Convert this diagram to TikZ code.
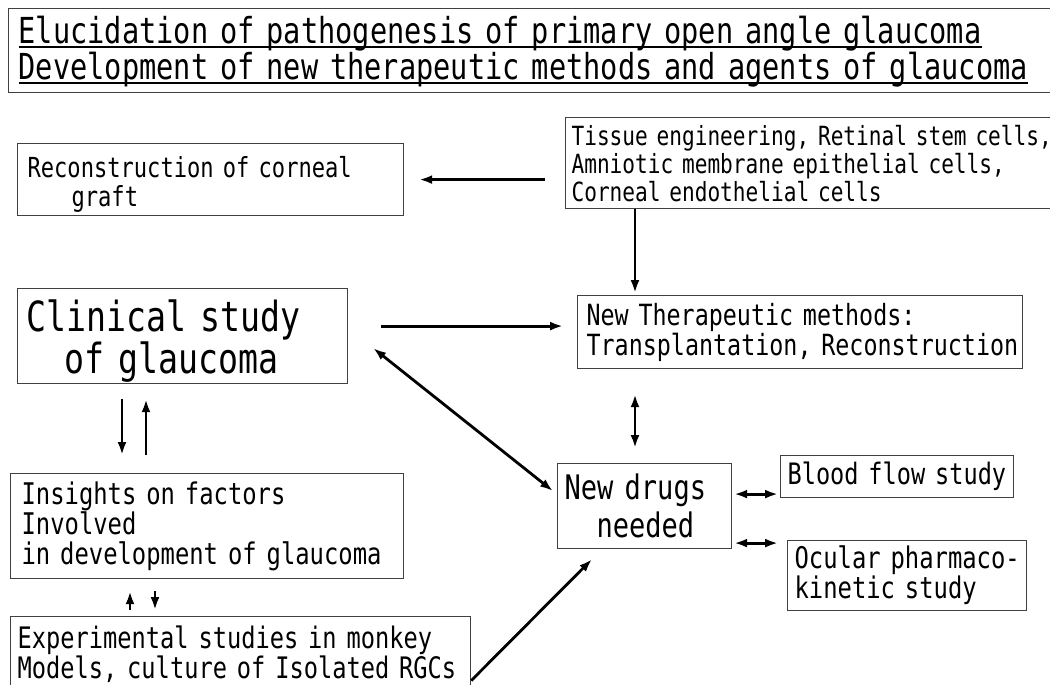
\documentclass[tikz,border=0pt]{standalone}
\usepackage{fontspec}
\usetikzlibrary{arrows.meta,positioning}
\newfontfamily\gothic[FakeStretch=0.8]{DejaVu Sans Mono}
\newcommand\gsize[2]{\gothic\fontsize{#1}{#2}\selectfont}
\newcommand\ulin[1]{\hbox{\setbox0\hbox{#1}\rlap{\rule[-4.5pt]{\wd0}{1.8pt}}\box0}}

\begin{document}
\begin{tikzpicture}[x=1pt,y=-1pt,
  box/.style={draw=black!75,line width=1.2pt,anchor=north west,align=left,inner ysep=0pt},
  arr/.style={-{Latex[length=13pt,width=9pt]},line width=2.8pt},
  darr/.style={{Latex[length=13pt,width=9pt]}-{Latex[length=13pt,width=9pt]},line width=2.8pt}]
\useasboundingbox (0,0) rectangle (1050,685);
% title
\node[box,text width=1040pt,minimum height=84pt,inner xsep=10pt,font=\gsize{35.8}{35}] (aim) at (8,8)
  {\rule{0pt}{30pt}\ulin{Elucidation of pathogenesis of primary open angle glaucoma}\\%
   \ulin{Development of new therapeutic methods and agents of glaucoma}};
% boxes
\node[box,text width=366pt,minimum height=72pt,inner xsep=10pt,font=\gsize{27.6}{29}] (graft) at (17,143)
  {\rule{0pt}{30pt}Reconstruction of corneal\\\hspace*{44pt}graft};
\node[box,text width=500pt,minimum height=91pt,inner xsep=6pt,font=\gsize{26.4}{28}] (tissue) at (565,117)
  {\mbox{Tissue engineering, Retinal stem cells,}\\\mbox{Amniotic membrane epithelial cells,}\\Corneal endothelial cells};
\node[box,text width=312pt,minimum height=95pt,inner xsep=9pt,font=\gsize{41.5}{40}] (clinical) at (17,288)
  {\rule{0pt}{42pt}Clinical study\\\hspace*{38pt}of glaucoma};
\node[box,text width=427pt,minimum height=73pt,inner xsep=9pt,font=\gsize{29.2}{30}] (therapy) at (577,295)
  {\mbox{New Therapeutic methods:}\\\mbox{Transplantation, Reconstruction}};
\node[box,text width=160pt,minimum height=85pt,inner xsep=7pt,font=\gsize{33.8}{38}] (drugs) at (557,463)
  {New drugs\\\hspace*{32pt}needed};
\node[box,text width=219pt,minimum height=42pt,inner xsep=7pt,font=\gsize{29.5}{30}] (blood) at (780,455)
  {\mbox{Blood flow study}};
\node[box,text width=225pt,minimum height=70pt,inner xsep=7pt,font=\gsize{29.8}{30}] (ocular) at (787,540)
  {\mbox{Ocular pharmaco-}\\\mbox{kinetic study}};
\node[box,text width=371pt,minimum height=105pt,inner xsep=11pt,font=\gsize{29.8}{30}] (insights) at (10,473)
  {Insights on factors\\Involved\\\mbox{in development of glaucoma}};
\node[box,text width=446pt,minimum height=76pt,inner xsep=7pt,font=\gsize{29.6}{28}] (exper) at (10,616)
  {\mbox{Experimental studies in monkey}\\\mbox{Models, culture of Isolated RGCs}};
% helper points
\coordinate (tx) at ([xshift=58pt]therapy.north west);
\coordinate (ttw) at ([yshift=6pt]therapy.west);
\coordinate (d1) at ([yshift=12pt]drugs.east);
\coordinate (d2) at ([yshift=-37pt]drugs.east);
\coordinate (c1) at ([xshift=105pt]clinical.south west);
\coordinate (c2) at ([xshift=129pt]clinical.south west);
\coordinate (c3) at ([xshift=120pt]insights.south west);
\coordinate (c4) at ([xshift=145pt]insights.south west);
% connectors
\draw[arr,shorten <=20pt,shorten >=15pt] (tissue.west |- graft.east) -- (graft.east);
\draw[arr,shorten >=2pt] (tx |- tissue.south) -- (tx);
\draw[arr,shorten <=33pt,shorten >=14pt] (clinical.east |- ttw) -- (ttw);
\draw[darr,shorten <=25pt,shorten >=15pt] (tx |- therapy.south) -- (tx |- drugs.north);
\draw[darr] ([xshift=25pt,yshift=-12pt]clinical.east) -- ([xshift=-4pt,yshift=15pt]drugs.west);
\draw[darr,shorten <=2pt,shorten >=2pt] (d1) -- (d1 -| blood.west);
\draw[darr,shorten <=2pt,shorten >=2pt] (d2) -- (d2 -| blood.west);
\draw[arr,shorten <=15pt,shorten >=18pt] (c1) -- (c1 |- insights.north);
\draw[arr,shorten <=18pt,shorten >=15pt] (c2 |- insights.north) -- (c2);
\draw[arr,shorten <=6pt,shorten >=12pt] (c3 |- exper.north) -- (c3);
\draw[arr,shorten <=12pt,shorten >=6pt] (c4) -- (c4 |- exper.north);
\draw[arr] ([yshift=-26pt]exper.east) -- ([xshift=35pt,yshift=-10pt]drugs.south west);
\end{tikzpicture}
\end{document}
